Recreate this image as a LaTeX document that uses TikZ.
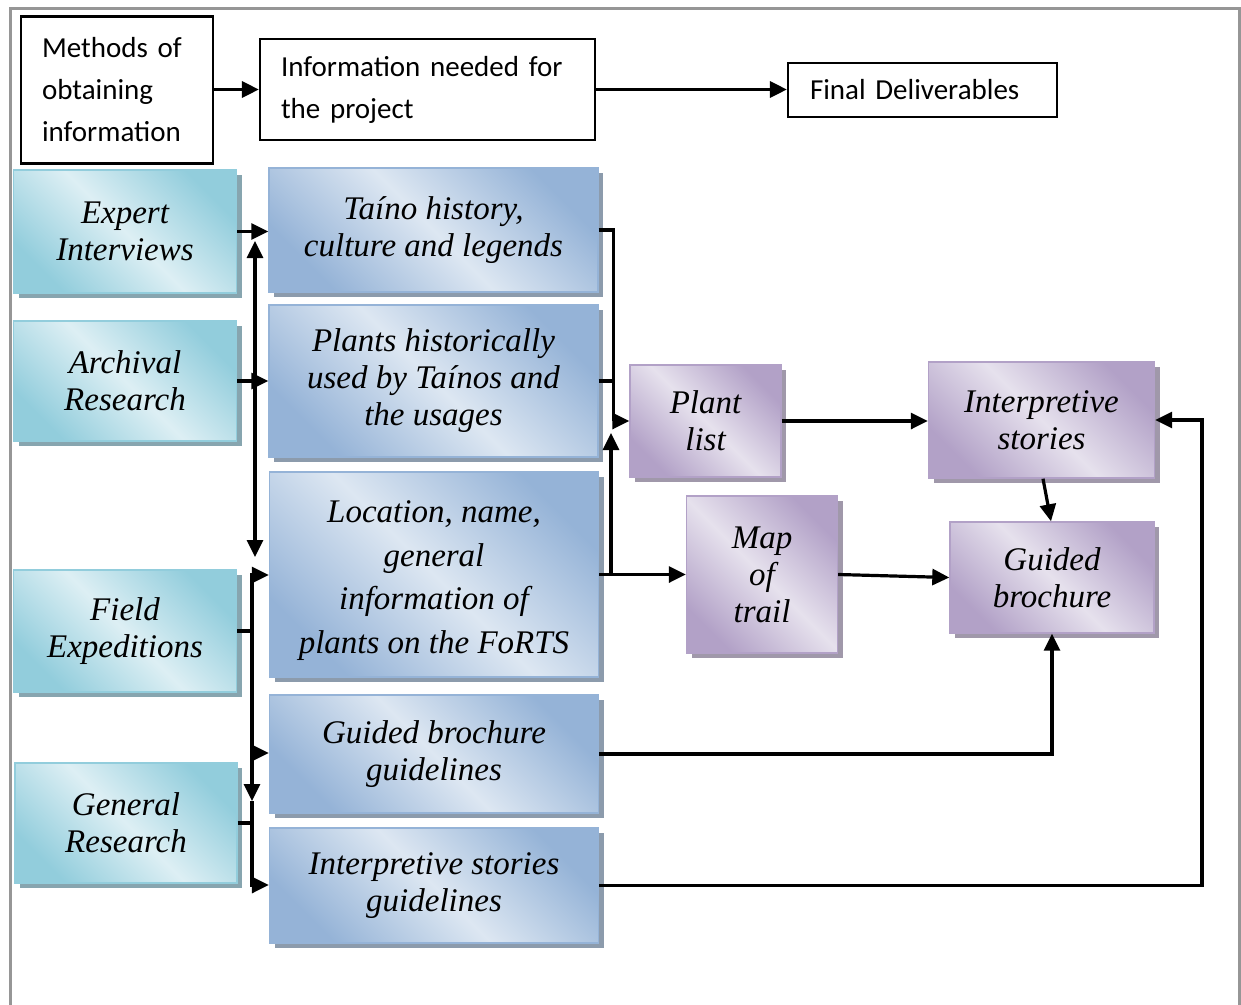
\documentclass[tikz,border=0pt]{standalone}
\usepackage{fontspec}
\setmainfont{Liberation Serif}
\newfontfamily\calibfont{Carlito}
\usetikzlibrary{arrows.meta,shadows}
\definecolor{tealD}{RGB}{146,205,220}
\definecolor{tealL}{RGB}{221,239,244}
\definecolor{tealS}{RGB}{135,165,175}
\definecolor{blueD}{RGB}{149,179,215}
\definecolor{blueL}{RGB}{221,231,242}
\definecolor{blueS}{RGB}{140,155,172}
\definecolor{purD}{RGB}{178,161,199}
\definecolor{purL}{RGB}{230,225,237}
\definecolor{purS}{RGB}{160,152,170}
\definecolor{frameC}{RGB}{150,150,150}
\begin{document}
\begin{tikzpicture}[x=1pt,y=-1pt,
  ln/.style={line width=3.2pt},
  arr/.style={line width=3.2pt,-{Triangle[length=17pt,width=16pt]}},
  dbl/.style={line width=3.2pt,{Triangle[length=17pt,width=16pt]}-{Triangle[length=17pt,width=16pt]}},
  topbox/.style={draw=black,line width=2.2pt,fill=white,inner sep=0pt,align=left,
    font=\calibfont\fontsize{29}{42}\selectfont},
  gbox/.style={inner sep=0pt,align=center,line width=1.4pt,
    font=\itshape\fontsize{33}{37}\selectfont},
  tealbox/.style={gbox,draw=tealD,left color=tealD,right color=tealD,middle color=tealL,
    shading angle=-45,drop shadow={shadow xshift=5pt,shadow yshift=-5pt,fill=tealS,opacity=1}},
  bluebox/.style={gbox,draw=blueD,left color=blueD,right color=blueD,middle color=blueL,
    shading angle=-45,drop shadow={shadow xshift=5pt,shadow yshift=-5pt,fill=blueS,opacity=1}},
  purbox/.style={gbox,draw=purD,left color=purD,right color=purD,middle color=purL,
    shading angle=-45,drop shadow={shadow xshift=5pt,shadow yshift=-5pt,fill=purS,opacity=1}}
]
\useasboundingbox (0,0) rectangle (1241,1004);
\draw[frameC,line width=3pt] (10,1010) -- (10,8) -- (1239,8) -- (1239,1010);

% top legend boxes
\node[topbox,text width=150pt,minimum width=192pt,minimum height=147pt] (meth) at (117,90)
  {Methods of\\obtaining\\information};
\node[topbox,text width=293pt,minimum width=335pt,minimum height=101pt] (info) at (427.5,89.5)
  {Information needed for\\the project};
\node[topbox,text width=225pt,minimum width=269pt,minimum height=54pt] (final) at (922.5,90)
  {Final Deliverables};

% methods
\node[tealbox,minimum width=223pt,minimum height=123pt] (expert) at (125,231.5) {Expert\\Interviews};
\node[tealbox,minimum width=223pt,minimum height=120pt] (archival) at (125,381) {Archival\\Research};
\node[tealbox,minimum width=223pt,minimum height=122pt] (field) at (125,631) {Field\\Expeditions};
\node[tealbox,minimum width=222pt,minimum height=120pt] (general) at (126,823) {General\\Research};

% information
\node[bluebox,minimum width=329pt,minimum height=124pt] (taino) at (433.5,230)
  {Taíno history,\\culture and legends};
\node[bluebox,minimum width=329pt,minimum height=152pt] (plants) at (433.5,381)
  {Plants historically\\used by Taínos and\\the usages};
\node[bluebox,minimum width=329pt,minimum height=205pt,font=\itshape\fontsize{33}{43.5}\selectfont] (location) at (434,574.5)
  {\parbox{300pt}{\centering\vspace*{12pt}Location, name,\\general\\information of\\plants on the FoRTS}};
\node[bluebox,minimum width=329pt,minimum height=118pt] (gbg) at (434,754)
  {Guided brochure\\guidelines};
\node[bluebox,minimum width=329pt,minimum height=115pt] (isg) at (434,885.5)
  {Interpretive stories\\guidelines};

% deliverables
\node[purbox,minimum width=151pt,minimum height=112pt] (plant) at (705.5,421) {Plant\\list};
\node[purbox,minimum width=226pt,minimum height=116pt] (interp) at (1041.5,420) {Interpretive\\stories};
\node[purbox,minimum width=151pt,minimum height=157pt] (map) at (762,574.5) {Map\\of\\trail};
\node[purbox,minimum width=204pt,minimum height=111pt] (guided) at (1052,577.5) {Guided\\brochure};

% junction coordinates
\coordinate (vtop) at (255,241);
\coordinate (vbot) at (255,557);
\coordinate (jl) at (252,0);
\coordinate (jdown) at (252,801);
\coordinate (jr) at (611,0);
\coordinate (jup) at (611,433);
\coordinate (rr) at (1202,0);

% top legend arrows
\draw[arr] (meth.east |- info.west) -- (info.west);
\draw[arr] (info.east) -- (info.east -| final.west);

% left side
\draw[arr] (expert.east) -- (expert.east -| taino.west);
\draw[arr] (archival.east) -- (archival.east -| plants.west);
\draw[dbl] (vtop) -- (vbot);
\draw[arr] (field.east) -- (jl |- field.east) |- (location.west |- 0,575);
\draw[arr] (jl |- field.east) |- (gbg.west |- 0,753);
\draw[arr] (jl |- gbg.west) -- (jdown);
\draw[ln] (jdown) -- (jl |- general.east);
\draw[arr] (general.east) -- (jl |- general.east) |- (isg.west |- 0,885);

% middle
\draw[arr] (taino.east) -- ++(15,0) |- (plant.west);
\draw[ln] (plants.east) -- ++(15,0);
\draw[arr] (jr |- location.east) -- (jup);
\draw[arr] (location.east) -- (location.east -| map.west);

% right side
\draw[arr] (plant.east) -- (plant.east -| interp.west);
\draw[arr] ([xshift=1.5pt]interp.south) -- ([xshift=-1pt]guided.north);
\draw[arr] (map.east) -- (guided.west);
\draw[arr] (gbg.east) -| (guided.south);
\draw[arr] (isg.east) -| (rr |- interp.east) -- (interp.east);
\end{tikzpicture}
\end{document}
